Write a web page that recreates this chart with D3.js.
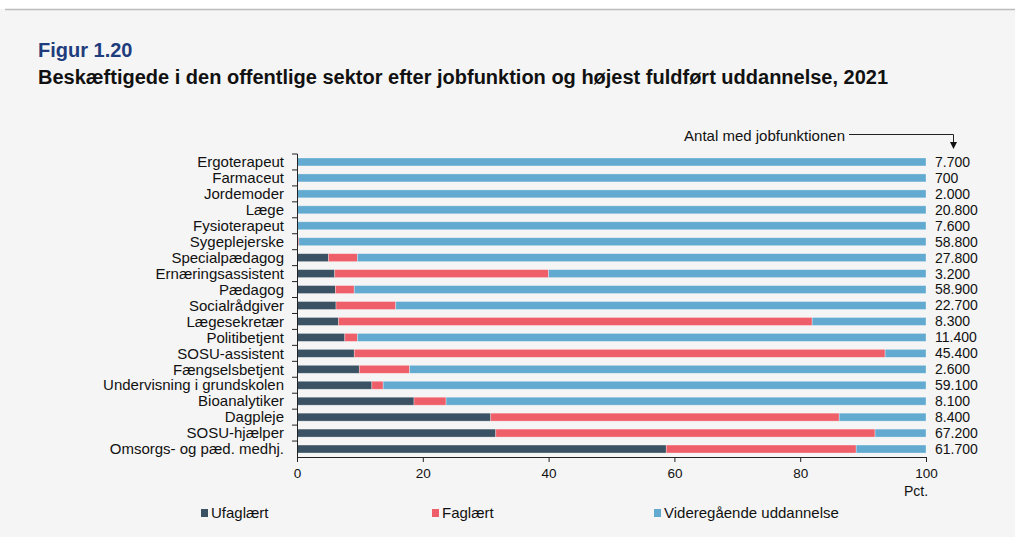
<!DOCTYPE html>
<html lang="da">
<head>
<meta charset="UTF-8">
<script src="https://cdn.jsdelivr.net/npm/d3@7/dist/d3.min.js"></script>
<title>Figur 1.20</title>
<style>
  body { margin: 0; background: #fff; }
  svg { display: block; font-family: "Liberation Sans", Arial, sans-serif; }
</style>
</head>
<body>
<div id="chart"></div>
<script>
// jobfunktioner, oppefra og ned
var jobs = ["Ergoterapeut", "Farmaceut", "Jordemoder", "Læge", "Fysioterapeut", "Sygeplejerske",
  "Specialpædagog", "Ernæringsassistent", "Pædagog", "Socialrådgiver", "Lægesekretær",
  "Politibetjent", "SOSU-assistent", "Fængselsbetjent", "Undervisning i grundskolen",
  "Bioanalytiker", "Dagpleje", "SOSU-hjælper", "Omsorgs- og pæd. medhj."];

// andele i pct.
var ufaglaert = [0, 0, 0, 0, 0, 0, 5.0, 6.0, 6.1, 6.2, 6.6, 7.6, 9.1, 9.9, 11.9, 18.6, 30.8, 31.6, 58.7];
var faglaert  = [0, 0, 0, 0, 0, 0.3, 4.6, 34.0, 3.0, 9.5, 75.3, 2.0, 84.4, 8.0, 1.8, 5.1, 55.4, 60.3, 30.2];
var videregaaende = jobs.map(function (d, i) { return 100 - ufaglaert[i] - faglaert[i]; });

// antal med jobfunktionen
var antal = ["7.700", "700", "2.000", "20.800", "7.600", "58.800", "27.800", "3.200", "58.900",
  "22.700", "8.300", "11.400", "45.400", "2.600", "59.100", "8.100", "8.400", "67.200", "61.700"];

var xTicks = [0, 20, 40, 60, 80, 100];
var seriesNames = ["Ufaglært", "Faglært", "Videregående uddannelse"];
var colors = ["#3a5263", "#ef5f69", "#63aad0"];

var W = 1015, H = 537;
var svg = d3.select("#chart").append("svg").attr("width", W).attr("height", H);

// baggrund og streg foroven
svg.append("rect").attr("x", 0).attr("y", 9).attr("width", W).attr("height", H - 9).attr("fill", "#f5f5f5");
svg.append("line").attr("x1", 5).attr("x2", W).attr("y1", 9.5).attr("y2", 9.5)
  .attr("stroke", "#bcbcbc").attr("stroke-width", 1.5);

svg.append("text").attr("x", 38).attr("y", 57).text("Figur 1.20")
  .style("font-size", "20px").style("font-weight", "bold").attr("fill", "#1f3c7c");
svg.append("text").attr("x", 38).attr("y", 84)
  .text("Beskæftigede i den offentlige sektor efter jobfunktion og højest fuldført uddannelse, 2021")
  .style("font-size", "20px").style("font-weight", "bold").attr("fill", "#111");

var x = d3.scaleLinear().domain([0, 100]).range([297, 926]);
var y = d3.scaleBand().domain(jobs).range([154, 457]).paddingInner(0.5).paddingOuter(0.25);

var stack = d3.stack().keys([0, 1, 2]).value(function (d, k) { return d[k]; });
var rows = jobs.map(function (j, i) { return [ufaglaert[i], faglaert[i], videregaaende[i]]; });
var layers = stack(rows);

var g = svg.append("g");
layers.forEach(function (layer, k) {
  g.selectAll(null).data(layer).enter().append("rect")
    .attr("x", function (d) { return x(d[0]); })
    .attr("width", function (d) { return Math.max(0, x(d[1]) - x(d[0])); })
    .attr("y", function (d, i) { return y(jobs[i]); })
    .attr("height", y.bandwidth())
    .attr("fill", colors[k])
    .attr("stroke", "#ffffff").attr("stroke-opacity", 0.45).attr("stroke-width", 0.7);
});

// y-akse med streger mellem kategorier
var yAxis = svg.append("g");
yAxis.append("line").attr("x1", 297.5).attr("x2", 297.5).attr("y1", 154).attr("y2", 457)
  .attr("stroke", "#222").attr("stroke-width", 1);
var step = (457 - 154) / jobs.length;
d3.range(jobs.length).forEach(function (i) {
  yAxis.append("line").attr("x1", 292).attr("x2", 297.5)
    .attr("y1", 154 + i * step).attr("y2", 154 + i * step).attr("stroke", "#222");
});
yAxis.selectAll("text.cat").data(jobs).enter().append("text")
  .attr("x", 284).attr("y", function (d) { return y(d) + y.bandwidth() / 2; })
  .attr("dy", "0.35em").attr("text-anchor", "end")
  .style("font-size", "15px").attr("fill", "#111").text(function (d) { return d; });

// x-akse
var xAxis = svg.append("g").attr("transform", "translate(0,457)")
  .call(d3.axisBottom(x).tickValues(xTicks).tickSize(5).tickPadding(6).tickFormat(d3.format("d")));
xAxis.select(".domain").attr("stroke", "#222");
xAxis.selectAll(".tick line").attr("stroke", "#222");
xAxis.selectAll(".tick text").style("font-size", "13.5px").style("font-family", "Liberation Sans, Arial, sans-serif").attr("fill", "#111");
svg.append("text").attr("x", 916).attr("y", 496).attr("text-anchor", "middle")
  .style("font-size", "14px").attr("fill", "#111").text("Pct.");

// antal til højre
svg.selectAll("text.antal").data(antal).enter().append("text")
  .attr("x", 935).attr("y", function (d, i) { return y(jobs[i]) + y.bandwidth() / 2; })
  .attr("dy", "0.35em").style("font-size", "14px").attr("fill", "#111").text(function (d) { return d; });

// annotation
svg.append("text").attr("x", 845).attr("y", 136).attr("dy", "0.35em").attr("text-anchor", "end")
  .style("font-size", "15px").attr("fill", "#111").text("Antal med jobfunktionen");
svg.append("path").attr("d", "M849,134.5 H953.5 V143").attr("fill", "none").attr("stroke", "#222");
svg.append("path").attr("d", "M950,142 L957,142 L953.5,149 Z").attr("fill", "#111");

// forklaring
var legX = [201, 432, 654];
seriesNames.forEach(function (n, k) {
  svg.append("rect").attr("x", legX[k]).attr("y", 509).attr("width", 7).attr("height", 8).attr("fill", colors[k]);
  svg.append("text").attr("x", legX[k] + 10).attr("y", 513).attr("dy", "0.35em")
    .style("font-size", "15px").attr("fill", "#111").text(n);
});
</script>
</body>
</html>
